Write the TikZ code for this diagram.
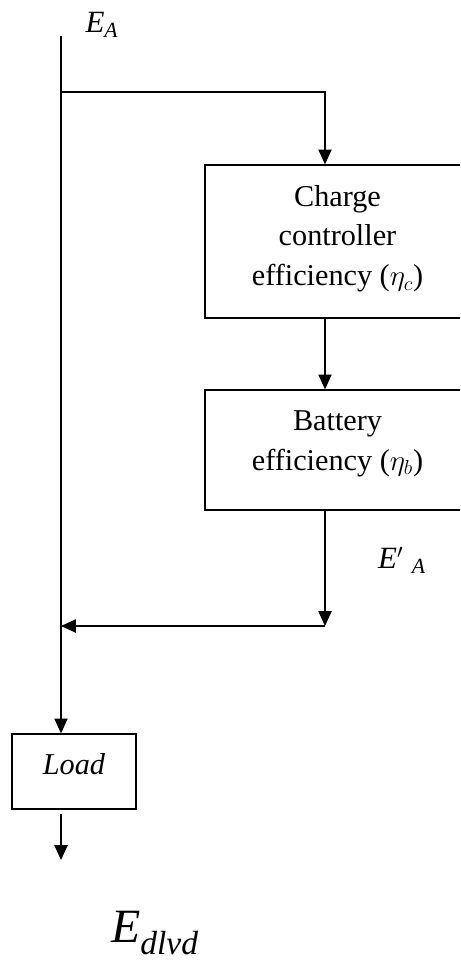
\documentclass[tikz,border=0pt]{standalone}
\usepackage{fontspec}
\setmainfont{Liberation Serif}
\usetikzlibrary{arrows.meta}

\begin{document}
\begin{tikzpicture}[
            x=0.025cm, y=-0.025cm,
            block/.style={draw, line width=.9pt, align=center,
                font=\fontsize{21.5}{28.4}\selectfont},
            arrow/.style={-{Triangle[width=.33cm, length=.37cm]}, line width=.9pt},
            tag/.style={font=\fontsize{22}{26}\selectfont},
        ]
            \useasboundingbox (0, 0) rectangle (460, 964);
            \clip (0, 0) rectangle (460, 964);
            \coordinate (source) at (61, 36);
            \coordinate (split) at (61, 92);
            \coordinate (tap) at (325, 92);
            \coordinate (merge) at (61, 626);
            \coordinate (output) at (61, 860);
            \node[block, minimum width=6.625cm, minimum height=3.825cm, text depth=.3cm]
                (charge) at (337.5, 241.5) {Charge\\controller\\efficiency ($\eta_c$)};
            \node[block, minimum width=6.625cm, minimum height=3cm, text depth=.47cm]
                (battery) at (337.5, 450) {Battery\\efficiency ($\eta_b$)};
            \node[block, minimum width=3.1cm, minimum height=1.875cm, text depth=.38cm]
                (load) at (74, 771.5) {\textit{Load}};
            \node[tag] (ea) at (102, 25) {\textit{E}\textsubscript{\textit{A}}};
            \node[tag] (eprime) at (402, 560) {\textit{E}$'$\;\textsubscript{\textit{A}}};
            \node[font=\fontsize{34}{40}\selectfont] (edlvd) at (155, 933)
                {\textit{E}\textsubscript{\textit{dlvd}}};
            \draw[arrow] (source) -- (source |- load.north);
            \draw[arrow] (split) -- (tap) -- (tap |- charge.north);
            \draw[arrow] (charge.south -| tap) -- (battery.north -| tap);
            \draw[arrow] (battery.south -| tap) -- (tap |- merge);
            \draw[arrow] (tap |- merge) -- (merge);
            \draw[arrow, shorten <=3] (source |- load.south) -- (output);
        \end{tikzpicture}
\end{document}
